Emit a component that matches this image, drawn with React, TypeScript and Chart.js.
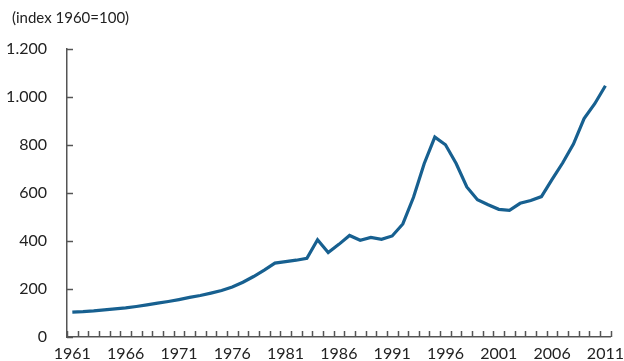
import React, { useEffect, useRef } from "react";
import { Chart, registerables } from "chart.js";

Chart.register(...registerables);

const years: string[] = [];
for (let y = 1961; y <= 2011; y++) years.push(String(y));

const indexValues = [
  104, 106, 109, 113, 117, 121, 127, 134, 141, 148,
  156, 165, 173, 183, 194, 208, 228, 252, 279, 308,
  314, 320, 328, 405, 352, 386, 423, 403, 415, 407,
  421, 471, 582, 722, 833, 801, 723, 625, 572, 551,
  532, 528, 557, 569, 585, 657, 726, 804, 910, 972,
  1047,
];

const yTicks = [0, 200, 400, 600, 800, 1000, 1200];
const titleText = "(index 1960=100)";

const FONT = "Lato, 'Open Sans', sans-serif";
const LINE_COLOR = "#176090";
const AXIS_COLOR = "#555555";

const innerTicks = {
  id: "innerTicks",
  afterDatasetsDraw(chart: any) {
    const ctx = chart.ctx;
    const x = chart.scales.x;
    const y = chart.scales.y;
    const area = chart.chartArea;
    ctx.save();
    ctx.strokeStyle = AXIS_COLOR;
    ctx.lineWidth = 1.5;
    const n = years.length;
    const step = n > 1 ? x.getPixelForValue(1) - x.getPixelForValue(0) : 0;
    for (let i = 0; i <= n; i++) {
      const px = Math.round(x.getPixelForValue(0) - step / 2 + i * step) + 0.5;
      ctx.beginPath();
      ctx.moveTo(px, area.bottom);
      ctx.lineTo(px, area.bottom - 6);
      ctx.stroke();
    }
    for (const v of yTicks) {
      const py = Math.round(y.getPixelForValue(v)) + 0.5;
      ctx.beginPath();
      ctx.moveTo(area.left, py);
      ctx.lineTo(area.left + 6, py);
      ctx.stroke();
    }
    ctx.restore();
  },
};

export default function App() {
  const ref = useRef<HTMLCanvasElement | null>(null);
  useEffect(() => {
    document.body.style.margin = "0";
    const canvas = ref.current;
    if (!canvas) return;
    const chart = new Chart(canvas, {
      type: "line",
      data: {
        labels: years,
        datasets: [
          {
            data: indexValues,
            borderColor: LINE_COLOR,
            borderWidth: 3.2,
            pointRadius: 0,
            tension: 0,
            fill: false,
          },
        ],
      },
      options: {
        responsive: false,
        animation: false,
        layout: { padding: { left: 5, right: 3, top: 49, bottom: 0 } },
        plugins: {
          legend: { display: false },
          tooltip: { enabled: false },
          title: { display: false },
        },
        scales: {
          x: {
            type: "category",
            offset: true,
            grid: { display: false, drawTicks: true, tickLength: 7 },
            border: { display: true, color: AXIS_COLOR, width: 1.5 },
            afterFit: (axis: any) => {
              axis.height = 24;
            },
            ticks: {
              autoSkip: false,
              maxRotation: 0,
              color: "#222",
              padding: 0,
              font: { family: FONT, size: 16 },
              callback: (_v: any, i: number) => (i % 5 === 0 ? years[i] : ""),
            },
          },
          y: {
            min: 0,
            max: 1200,
            grid: { display: false, drawTicks: true, tickLength: 20 },
            border: { display: true, color: AXIS_COLOR, width: 1.5 },
            afterBuildTicks: (axis: any) => {
              axis.ticks = yTicks.map((v) => ({ value: v }));
            },
            afterFit: (axis: any) => {
              axis.width = 62;
            },
            ticks: {
              color: "#222",
              padding: 0,
              font: { family: FONT, size: 16 },
              callback: (v: any) => Number(v).toLocaleString("de-DE"),
            },
          },
        },
      },
      plugins: [innerTicks],
    });
    return () => chart.destroy();
  }, []);
  return (
    <div style={{ width: 624, height: 361, position: "relative" }}>
      <div
        style={{
          position: "absolute",
          left: 12,
          top: 8,
          fontFamily: FONT,
          fontSize: 15,
          lineHeight: "18px",
          color: "#222",
          whiteSpace: "nowrap",
        }}
      >
        {titleText}
      </div>
      <canvas ref={ref} width={624} height={361} style={{ display: "block" }} />
    </div>
  );
}
